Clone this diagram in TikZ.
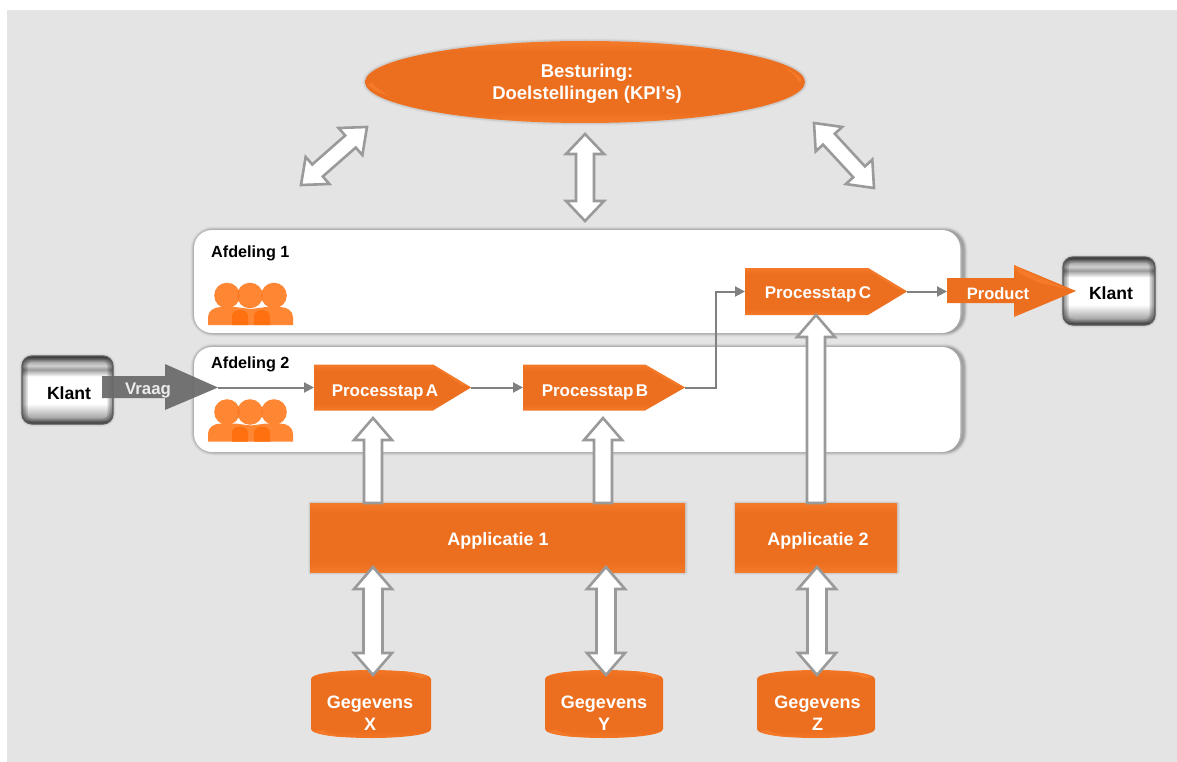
\documentclass[tikz,border=0pt]{standalone}
\usepackage{fontspec}
\setmainfont{Liberation Sans}
\usetikzlibrary{arrows.meta,calc,shapes.geometric}
\definecolor{bggray}{HTML}{E4E4E4}
\definecolor{orcore}{HTML}{EC6F1F}
\definecolor{orlite}{HTML}{F47A29}
\definecolor{ormid}{HTML}{EF7323}
\definecolor{pers}{HTML}{FF8633}
\definecolor{persdk}{HTML}{FF7110}
\definecolor{persmid}{HTML}{F97A26}
\definecolor{linegray}{HTML}{808080}
\definecolor{edgegray}{HTML}{9A9A9A}
\definecolor{arrgray}{HTML}{6A6A6A}
\definecolor{kdark}{HTML}{5A5A5A}
\definecolor{kmid}{HTML}{9A9A9A}
\definecolor{klite}{HTML}{CFCFCF}
\definecolor{shadeA}{HTML}{DCDCDC}
\definecolor{shadeB}{HTML}{CDCDCD}
\definecolor{shadeC}{HTML}{B8B8B8}
\definecolor{shadeD}{HTML}{A2A2A2}
\pgfdeclareverticalshading{bevelshade}{100bp}{
  color(0bp)=(orlite); color(25bp)=(orlite); color(29bp)=(ormid); color(32bp)=(orcore);
  color(68bp)=(orcore); color(71bp)=(ormid); color(75bp)=(orlite); color(100bp)=(orlite)}
\pgfdeclareverticalshading{klantshade}{100bp}{
  color(0bp)=(kdark); color(25bp)=(kdark); color(28bp)=(kmid); color(40bp)=(white);
  color(60bp)=(white); color(65bp)=(kmid); color(68bp)=(klite); color(72bp)=(kmid); color(75bp)=(kdark); color(100bp)=(kdark)}
\tikzset{
  labeltext/.style={text=white,font=\fontsize{18}{22}\selectfont\bfseries,align=center,inner sep=0pt},
  darktext/.style={text=black,font=\fontsize{16.2}{20}\selectfont\bfseries,inner sep=0pt},
  flow/.style={draw=linegray,line width=2pt,-{Triangle[length=10pt,width=10pt]}},
  blockarrow/.style={fill=white,draw=edgegray,line width=2.6pt,miter limit=10},
  orangebox/.style={shade,shading=bevelshade,draw=none,rectangle,inner sep=0pt},
  panel/.style={fill=white,draw=none,rounded corners=18pt},
  people/.pic={
    \fill[pers] (0,0) -- (0,-8) .. controls (0,-14) and (6,-18) .. (13,-18) -- (27,-18) -- (43,-16) -- (58,-18) -- (72,-18) .. controls (79,-18) and (85,-14) .. (85,-8) -- (85,0) -- cycle;
    \fill[persdk] (24,0) -- (24,-9) .. controls (24,-13) and (28,-15) .. (32,-15) .. controls (36,-15) and (40,-13) .. (40,-9) -- (40,0) -- cycle;
    \fill[persdk] (46,0) -- (46,-9) .. controls (46,-13) and (50,-15) .. (54,-15) .. controls (58,-15) and (62,-13) .. (62,-9) -- (62,0) -- cycle;
    \fill[pers] (19,-29.5) circle[radius=12.8];
    \fill[pers] (42,-29.5) circle[radius=12.8];
    \fill[pers] (66,-29.5) circle[radius=12.8];
    \begin{scope}
      \clip (19,-29.5) circle[radius=12.8];
      \fill[persmid] (42,-29.5) circle[radius=12.8];
    \end{scope}
    \begin{scope}
      \clip (42,-29.5) circle[radius=12.8];
      \fill[persmid] (66,-29.5) circle[radius=12.8];
    \end{scope}
  }
}
% soft shadow of a path: concentric opaque strokes, lightest and widest first
\newcommand\softshadow[1]{%
  \draw[shadeA,line width=9pt,line join=round] #1;
  \draw[shadeB,line width=7pt,line join=round] #1;
  \draw[shadeC,line width=5pt,line join=round] #1;
  \draw[shadeD,line width=3pt,line join=round] #1;}
\newcommand\thinshadow[1]{%
  \draw[shadeA,line width=5pt,line join=round] #1;
  \draw[shadeB,line width=3pt,line join=round] #1;}
% process step: name, x1,y1,x2,y2, shoulder x, text, text x, text y
\newcommand\procstep[9]{%
  \pgfmathsetmacro\ymid{(#3+#5)/2}%
  \coordinate (#1-w) at (#2,\ymid);
  \coordinate (#1-e) at (#4,\ymid);
  \coordinate (#1-s) at (#8,#5);
  \shade[shading=bevelshade] (#2,#3) -- (#6,#3) -- (#4,\ymid) -- (#6,#5) -- (#2,#5) -- cycle;
  \fill[orlite] (#6,#3) -- (#6+5,#3+5) -- (#4-10,\ymid-3) -- (#4,\ymid) -- cycle;
  \node[labeltext,font=\fontsize{17}{20}\selectfont\bfseries] (#1) at (#8,#9) {\spaceskip=.15em #7};}
% cylinder: name, x1, x2, y1, y2
\newcommand\cylinderbox[5]{%
  \shade[shading=bevelshade] (#2,#4+9) .. controls (#2,#4-3) and (#3,#4-3) .. (#3,#4+9)
    -- (#3,#5-9) .. controls (#3,#5+3) and (#2,#5+3) .. (#2,#5-9) -- cycle;
  \fill[orlite] (#3-3,#4+7) .. controls (#3-10,#4+3) and (#3-20,#4+2) .. (#3-30,#4+1) .. controls (#3-20,#4+5) and (#3-12,#4+6) .. (#3-12,#4+8) -- cycle;
  \fill[orlite] (#2+3,#5-7) .. controls (#2+10,#5-3) and (#2+20,#5-2) .. (#2+30,#5-1) .. controls (#2+20,#5-5) and (#2+12,#5-6) .. (#2+12,#5-8) -- cycle;}
% glossy client box
\newcommand\klantbox[5]{%
  \thinshadow{[rounded corners=10pt] (#2,#3) rectangle (#4,#5)}
  \node[rectangle,rounded corners=10pt,minimum width=#4-#2,minimum height=#5-#3,inner sep=0pt,shade,shading=klantshade] (#1) at ({(#2+#4)/2},{(#3+#5)/2}) {};
  \begin{scope}
    \clip[rounded corners=10pt] (#2,#3) rectangle (#4,#5);
    \foreach \w in {11,7,3}{\draw[black,opacity=0.17,line width=\w pt,rounded corners=10pt] (#2,#3) rectangle (#4,#5);}
  \end{scope}
  \draw[kdark,line width=1.2pt,rounded corners=10pt] (#2,#3) rectangle (#4,#5);}
% block arrows: (from) (to) head half-width, shaft half-width, head length
\newcommand\dblarrow[5]{%
  \coordinate (p1) at ($(#1)!#5pt!(#2)$);
  \coordinate (p2) at ($(#2)!#5pt!(#1)$);
  \draw[blockarrow] (#1) -- ($(p1)!#3pt!90:(#2)$) -- ($(p1)!#4pt!90:(#2)$) -- ($(p2)!#4pt!-90:(#1)$) -- ($(p2)!#3pt!-90:(#1)$) -- (#2)
    -- ($(p2)!#3pt!90:(#1)$) -- ($(p2)!#4pt!90:(#1)$) -- ($(p1)!#4pt!-90:(#2)$) -- ($(p1)!#3pt!-90:(#2)$) -- cycle;}
\newcommand\uparrowblock[2]{%
  \coordinate (p2) at ($(#2)!22pt!(#1)$);
  \draw[blockarrow] ($(#1)!9pt!-90:(#2)$) -- ($(p2)!9pt!90:(#1)$) -- ($(p2)!19pt!90:(#1)$) -- (#2) -- ($(p2)!19pt!-90:(#1)$) -- ($(p2)!9pt!-90:(#1)$) -- ($(#1)!9pt!90:(#2)$) -- cycle;}
\begin{document}
\begin{tikzpicture}[x=1pt,y=-1pt]
\useasboundingbox (0,0) rectangle (1177,762);
\fill[bggray] (7,10) rectangle (1177,762);

% ellipse
\thinshadow{(585,82) ellipse [x radius=220,y radius=41]}
\node[ellipse,minimum width=440pt,minimum height=82pt,inner sep=0pt,shade,shading=bevelshade] (besturing) at (585,82) {};
\fill[orlite] (802,80) .. controls (799,76) and (795,72) .. (782,66) .. controls (790,71) and (796,76) .. (799,82) -- cycle;
\fill[orlite] (368,84) .. controls (372,90) and (380,94) .. (389,96) .. controls (380,90) and (375,86) .. (372,83) -- cycle;
\node[labeltext,font=\fontsize{18.5}{22.5}\selectfont\bfseries] (besturingtext) at (587,84) {Besturing:\\Doelstellingen (KPI’s)};

% panels
\softshadow{[rounded corners=18pt] (195,231) rectangle (963,332)}
\fill[panel] (194,230) rectangle (960,333);
\softshadow{[rounded corners=18pt] (195,348) rectangle (963,451)}
\fill[panel] (194,347) rectangle (960,452);
\node[darktext,anchor=west] (afd1) at (211,253) {Afdeling 1};
\node[darktext,anchor=west] (afd2) at (211,364) {Afdeling 2};
\pic at (208,325) {people};
\pic at (208,441.5) {people};

% clients
\klantbox{klantL}{22}{356}{113}{424}
\klantbox{klantR}{1063}{257}{1155}{325}
\node[darktext,font=\fontsize{17.6}{20}\selectfont\bfseries] at (69,393) {Klant};
\node[darktext,font=\fontsize{17.6}{20}\selectfont\bfseries] at (1111,293) {Klant};

% Vraag arrow
\fill[arrgray,opacity=.93] (102,376) -- (165,376) -- (165,364) -- (218,387.5) -- (165,410) -- (165,398) -- (102,398) -- cycle;
\coordinate (vraagtip) at (218,387.5);
\node[labeltext,font=\fontsize{16.8}{20}\selectfont\bfseries,text=white!92!black] (vraag) at (148,390) {Vraag};

% process steps
\procstep{pa}{314}{364.5}{471}{410.5}{433}{Processtap A}{385}{392}
\procstep{pb}{523}{364.5}{685}{410.5}{645}{Processtap B}{595}{392}
\procstep{pc}{745}{268}{907}{315}{868}{Processtap C}{818}{294}

% Product arrow
\shade[shading=bevelshade] (947,278) -- (1014,278) -- (1014,265) -- (1076,291) -- (1014,317) -- (1014,303) -- (947,303) -- cycle;
\fill[orlite] (1014,265) -- (1025,271) -- (1062,287) -- (1076,291) -- (1040,283) -- (1020,274) -- cycle;
\coordinate (prod-w) at (947,291.5);
\node[labeltext,font=\fontsize{16.5}{20}\selectfont\bfseries] (product) at (998,294) {Product};

% flow connectors
\draw[flow] (vraagtip) -- (pa-w);
\draw[flow] (pa-e) -- (pb-w);
\draw[flow] (pb-e) -- (716,387.5) -- (716,291.5) -- (pc-w);
\draw[flow] (pc-e) -- (prod-w);

% applications
\thinshadow{(310,503) rectangle (685,572)}
\node[orangebox,minimum width=375pt,minimum height=69pt] (app1) at (497.5,537.5) {};
\node[labeltext] at (498,541) {Applicatie 1};
\thinshadow{(735,503) rectangle (897,572)}
\node[orangebox,minimum width=162pt,minimum height=69pt] (app2) at (816,537.5) {};
\node[labeltext] at (818,541) {Applicatie 2};

% data stores
\cylinderbox{gx}{311}{431}{670}{738}
\cylinderbox{gy}{545}{663}{670}{738}
\cylinderbox{gz}{757}{875}{670}{738}
\node[labeltext] (gxt) at (370,713.5) {Gegevens\\X};
\node[labeltext] (gyt) at (604,713.5) {Gegevens\\Y};
\node[labeltext] (gzt) at (817.5,713.5) {Gegevens\\Z};

% block arrows
\coordinate (a1) at (373,503); \coordinate (a1t) at (373,418);
\coordinate (a2) at (603,503); \coordinate (a2t) at (603,418);
\coordinate (a3) at (816,503); \coordinate (a3t) at (816,315);
\uparrowblock{a1}{a1t}
\uparrowblock{a2}{a2t}
\uparrowblock{a3}{a3t}
\coordinate (d1a) at (373,567); \coordinate (d1b) at (373,675);
\coordinate (d2a) at (606,567); \coordinate (d2b) at (606,675);
\coordinate (d3a) at (817,567); \coordinate (d3b) at (817,675);
\dblarrow{d1a}{d1b}{19}{9.5}{22}
\dblarrow{d2a}{d2b}{19}{9.5}{22}
\dblarrow{d3a}{d3b}{19}{9.5}{22}
\coordinate (t1a) at (585,134); \coordinate (t1b) at (585,221);
\coordinate (t2a) at (367,127); \coordinate (t2b) at (301,185);
\coordinate (t3a) at (814,123); \coordinate (t3b) at (874,188);
\dblarrow{t1a}{t1b}{19}{9}{20}
\dblarrow{t2a}{t2b}{18}{8}{22}
\dblarrow{t3a}{t3b}{18}{8}{22}
\end{tikzpicture}
\end{document}
